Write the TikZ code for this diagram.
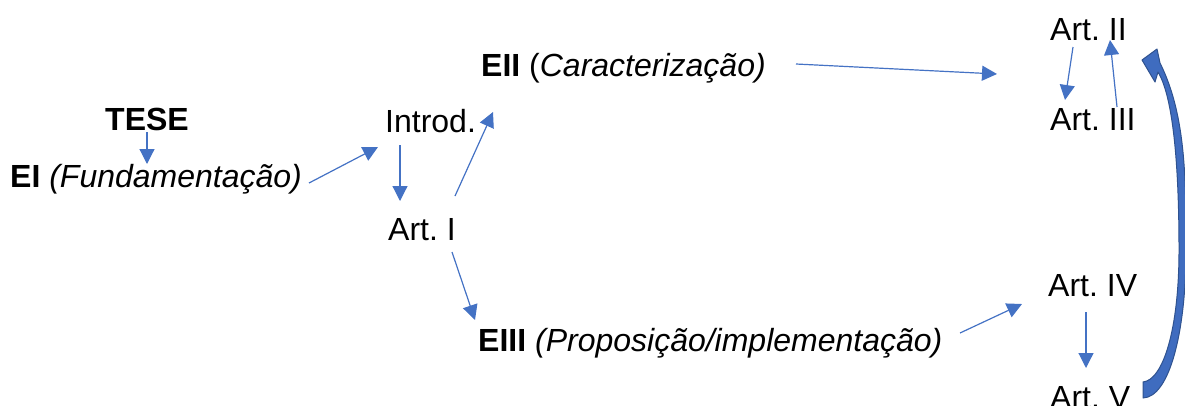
\documentclass[tikz,border=0pt]{standalone}
\usepackage{fontspec}
\setmainfont{Liberation Sans}
\usetikzlibrary{arrows.meta}

\definecolor{azul}{HTML}{4472C4}
\definecolor{azulmed}{HTML}{3F6CBF}
\definecolor{azulesc}{HTML}{2F528F}

\begin{document}
\begin{tikzpicture}[x=1pt,y=-1pt,
	txt/.style={anchor=base west,inner sep=0pt,font=\fontsize{32}{38}\selectfont},
	link/.style={azul,line width=1.2pt,-{Triangle[length=15pt,width=15pt]}},
	bigarrow/.style={fill=azulmed,draw=azulesc,line width=1pt,line join=round}]

	\useasboundingbox (0,0) rectangle (1185,405);

	% etapas
	\node[txt] (tese) at (105,130) {\textbf{TESE}};
	\node[txt] (ei) at (10,187) {\textbf{EI} \textit{(Fundamentação)}};
	\node[txt] (intro) at (385,132) {Introd.};
	\node[txt] (eii) at (481,76) {\textbf{EII} (\textit{Caracterização)}};
	\node[txt] (eiii) at (478,351) {\textbf{EIII} \textit{(Proposição/implementação)}};

	% artigos
	\foreach \n/\x/\y/\r in {art1/388/240/I, art2/1050/40/II, art3/1050/130/III, art4/1048/296/IV, art5/1050/408/V}
		\node[txt] (\n) at (\x,\y) {Art.\ \r};
		; %end for \n

	% ligacoes
	\draw[link] ([shift={(42,2)}]tese.base west) -- ([shift={(137,-23)}]ei.base west);
	\draw[link] ([shift={(299,-4)}]ei.base west) -- ([shift={(-7,15)}]intro.base west);
	\draw[link] ([shift={(15,13)}]intro.base west) -- ([shift={(12,-39)}]art1.base west);
	\draw[link] ([shift={(67,-44)}]art1.base west) -- ([shift={(12,36)}]eii.base west);
	\draw[link] ([shift={(64,12)}]art1.base west) -- ([shift={(-3,-31)}]eiii.base west);
	\draw[link] ([shift={(315,-12)}]eii.base west) -- ([shift={(-53,34)}]art2.base west);
	\draw[link] ([shift={(482,-18)}]eiii.base west) -- ([shift={(-26,8)}]art4.base west);
	\draw[link] ([shift={(23,7)}]art2.base west) -- ([shift={(15,-30)}]art3.base west);
	\draw[link] ([shift={(67,-23)}]art3.base west) -- ([shift={(60,0)}]art2.base west);
	\draw[link] ([shift={(38,16)}]art4.base west) -- ([shift={(36,-40)}]art5.base west);

	% retorno de Art. V para Art. II (seta curva cheia)
	\filldraw[bigarrow] ([shift={(93,-10)}]art5.base west)
		.. controls (1170,397) and (1186,330) .. (1186,250)
		.. controls (1186,180) and (1186,115) .. (1160,63)
		-- (1157,49) -- ([shift={(92,20)}]art2.base west) -- (1155,82) -- (1158,72)
		.. controls (1175,100) and (1179,180) .. (1179,250)
		.. controls (1179,330) and (1163,380) .. (1143,382) -- cycle;

\end{tikzpicture}
\end{document}
